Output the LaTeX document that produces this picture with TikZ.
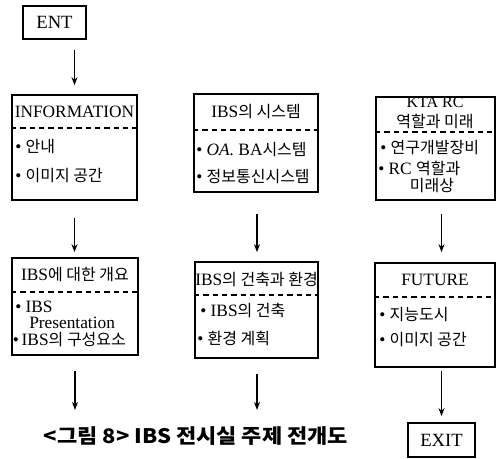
\documentclass[tikz,border=0pt]{standalone}
\usepackage{fontspec}
\setmainfont{Liberation Serif}
\newfontfamily\krfont{Noto Sans CJK KR}
\newcommand\KR[1]{{\krfont\fontsize{12}{14}\selectfont #1}}
\usetikzlibrary{arrows.meta,calc}
\begin{document}
\begin{tikzpicture}[x=0.75pt,y=-0.75pt,
  box/.style={draw,line width=1.3pt,rectangle,inner sep=0pt},
  sep/.style={dashed,line width=0.8pt,dash pattern=on 4pt off 3pt},
  head/.style={inner sep=0pt,font=\fontsize{13}{15}\selectfont},
  item/.style={inner sep=0pt,anchor=west,font=\fontsize{13}{15}\selectfont},
  arr/.style={line width=1pt,-{Stealth[length=6pt,width=4.5pt]}}]
\useasboundingbox (0,0) rectangle (500,459);
% boxes
\node[box,minimum width=47.25pt,minimum height=24.75pt] (ent) at (54.5,22.5) {};
\node[head,font=\fontsize{14}{16}\selectfont] at (ent.center) {ENT};
\node[box,minimum width=93.75pt,minimum height=78.75pt] (info) at (74.5,147.5) {};
\node[box,minimum width=94.5pt,minimum height=72.75pt] (over) at (75,306.5) {};
\node[box,minimum width=93pt,minimum height=73.5pt] (sys) at (256,143) {};
\node[box,minimum width=92.25pt,minimum height=72pt] (arch) at (256.5,310) {};
\node[box,minimum width=89.25pt,minimum height=77.25pt] (kta) at (435.5,148.5) {};
\node[box,minimum width=90pt,minimum height=78pt] (fut) at (435,315) {};
\node[box,minimum width=50.25pt,minimum height=25.5pt] (exit) at (441.5,440) {};
\node[head,font=\fontsize{14}{16}\selectfont] at (exit.center) {EXIT};
% dashed separators
\draw[sep] (info.west |- 0,128) -- (info.east |- 0,128);
\draw[sep] (over.west |- 0,292) -- (over.east |- 0,292);
\draw[sep] (sys.west |- 0,130) -- (sys.east |- 0,130);
\draw[sep] (arch.west |- 0,295) -- (arch.east |- 0,295);
\draw[sep] (kta.west |- 0,132) -- (kta.east |- 0,132);
\draw[sep] (fut.west |- 0,297) -- (fut.east |- 0,297);
% texts
\node[head] (infoh) at (74.5,112) {INFORMATION};
\node[item] (info1) at (15,147) {\textbullet\ \KR{안내}};
\node[item] (info2) at (15,176) {\textbullet\ \KR{이미지 공간}};
\node[head] (overh) at (75,275) {IBS\KR{에 대한 개요}};
\node[item] (over1) at (15,307) {\textbullet\ IBS};
\node[item] (over2) at (29,323) {Presentation};
\node[item] (over3) at (12.5,340) {\textbullet\,IBS\KR{의 구성요소}};
\node[head] (sysh) at (256,112) {IBS\KR{의 시스템}};
\node[item] (sys1) at (196,150) {\textbullet\ \textit{OA.} BA\KR{시스템}};
\node[item] (sys2) at (196,177) {\textbullet\ \KR{정보통신시스템}};
\node[head] (archh) at (256.5,279) {IBS\KR{의 건축과 환경}};
\node[item] (arch1) at (200,310) {\textbullet\ IBS\KR{의 건축}};
\node[item] (arch2) at (197,338) {\textbullet\ \KR{환경 계획}};
\node[head,align=center,font=\fontsize{12}{16}\selectfont] (ktah) at (435,113) {KTA RC\\[-1pt]\KR{역할과 미래}};
\node[item] (kta1) at (380,148) {\textbullet\ \KR{연구개발장비}};
\node[item] (kta2) at (378,168) {\textbullet\ RC \KR{역할과}};
\node[head] (kta3) at (432,186) {\KR{미래상}};
\node[head] (futh) at (435,280) {FUTURE};
\node[item] (fut1) at (379,315) {\textbullet\ \KR{지능도시}};
\node[item] (fut2) at (379,340) {\textbullet\ \KR{이미지 공간}};
% caption
\node[inner sep=0pt,xscale=1.1,font=\krfont\bfseries\fontsize{15}{18}\selectfont] (cap) at (196,436) {<그림 8> IBS 전시실 주제 전개도};
% connectors
\coordinate (overend) at (75,410);
\coordinate (archend) at (257,410);
\draw[arr,shorten <=7.5pt,shorten >=6.75pt] (ent.south -| info.north) -- (info.north);
\draw[arr,shorten <=12.75pt,shorten >=3.75pt] (info.south) -- (over.north -| info.south);
\draw[arr,shorten <=11pt] (over.south) -- (overend);
\draw[arr,shorten <=15.75pt,shorten >=6.75pt] (sys.south -| archend) -- (arch.north -| archend);
\draw[arr,shorten <=11pt] (arch.south -| archend) -- (archend);
\draw[arr,shorten <=9.75pt,shorten >=7.5pt] (kta.south -| exit.north) -- (fut.north -| exit.north);
\draw[arr,shorten <=2.25pt,shorten >=4.5pt] (fut.south -| exit.north) -- (exit.north);
\end{tikzpicture}
\end{document}
